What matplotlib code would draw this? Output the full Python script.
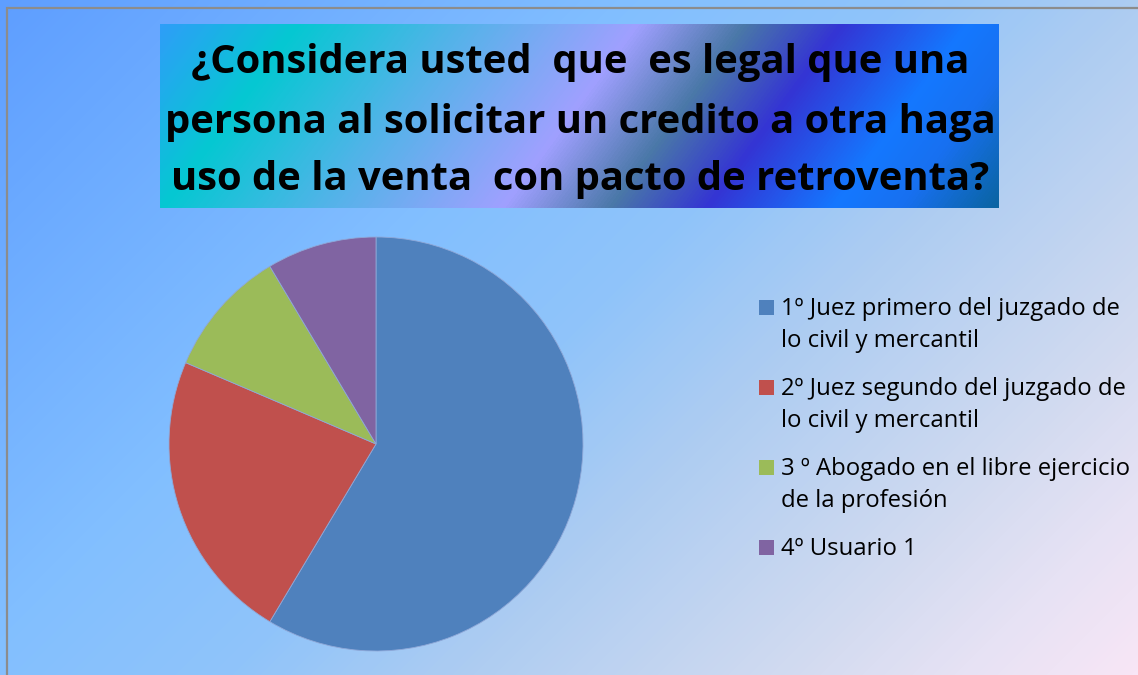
import numpy as np
import matplotlib
matplotlib.use("Agg")
from matplotlib import pyplot as plt
from matplotlib.colors import LinearSegmentedColormap
from matplotlib.patches import Rectangle

# data
labels = ["1º Juez primero del juzgado de\nlo civil y mercantil",
          "2º Juez segundo del juzgado de\nlo civil y mercantil",
          "3 º Abogado en el libre ejercicio\nde la profesión",
          "4º Usuario 1"]
values = [41, 16, 7, 6]
colors = ["#4F81BD", "#C0504D", "#9BBB59", "#8064A2"]
title_lines = ["¿Considera usted  que  es legal que una",
               "persona al solicitar un credito a otra haga",
               "uso de la venta  con pacto de retroventa?"]

W, H = 1138, 675
fig = plt.figure(figsize=(W / 100, H / 100), dpi=100)

# background gradient, diagonal
bg_cmap = LinearSegmentedColormap.from_list("bg", [
    (0.0, "#5E9EFF"), (0.35, "#82BFFF"), (0.50, "#90C4FA"),
    (0.62, "#ACCCF2"), (0.80, "#D0DAF0"), (0.90, "#E6E2F4"), (1.0, "#F8E6F6")])
xx, yy = np.meshgrid(np.arange(W), np.arange(H))
grad = (xx + yy) / float(W + H)
ax_bg = fig.add_axes([0, 0, 1, 1])
ax_bg.imshow(grad, cmap=bg_cmap, vmin=0, vmax=1, aspect="auto",
             extent=(0, W, H, 0), interpolation="bilinear")
ax_bg.set_xlim(0, W)
ax_bg.set_ylim(H, 0)
ax_bg.axis("off")
# grey frame on the top and left only
ax_bg.plot([7, 7, W], [H, 8, 8], color="#8C8C8C", lw=1.6,
           solid_joinstyle="miter")

# title box
bx0, by0, bx1, by1 = 160, 24, 999, 208
tb_cmap = LinearSegmentedColormap.from_list("tb", [
    (0.0, "#2E9EF8"), (0.14, "#05C8D2"), (0.30, "#50B4E8"), (0.49, "#A0A0FF"),
    (0.60, "#4A78A8"), (0.70, "#3434D4"), (0.83, "#1478FF"), (0.90, "#1870F0"),
    (1.0, "#0A64A0")])
bw, bh = bx1 - bx0, by1 - by0
tx, ty = np.meshgrid(np.arange(bw), np.arange(bh))
tgrad = (tx * 184 + ty * 135) / float(bw * 184 + bh * 135)
ax_t = fig.add_axes([bx0 / W, 1 - by1 / H, bw / W, bh / H])
ax_t.imshow(tgrad, cmap=tb_cmap, vmin=0, vmax=1, aspect="auto",
            extent=(0, bw, bh, 0), interpolation="bilinear")
ax_t.set_xlim(0, bw)
ax_t.set_ylim(bh, 0)
ax_t.axis("off")
baselines = [73, 133, 190]
for line, yb in zip(title_lines, baselines):
    ax_t.text(bw / 2 + 0.5, yb - by0, line, ha="center", va="baseline",
              fontsize=28.8, fontweight="bold", family="Open Sans", color="black")

# pie
cx, cy, r = 376, 444, 207
ax = fig.add_axes([(cx - r) / W, (H - cy - r) / H, 2 * r / W, 2 * r / H])
wedges, _ = ax.pie(values, colors=colors, startangle=90, counterclock=False,
                   radius=1, wedgeprops=dict(linewidth=0.6, edgecolor="#8FA8D8"))
ax.set_xlim(-1, 1)
ax.set_ylim(-1, 1)
ax.set_aspect("equal")
ax.axis("off")

# legend, drawn by hand so the swatch sits on the first line
yb = 315
for lab, col in zip(labels, colors):
    ax_bg.add_patch(Rectangle((759, yb - 15), 15, 15, facecolor=col,
                              edgecolor="none"))
    for k, part in enumerate(lab.split("\n")):
        ax_bg.text(781, yb + 32 * k, part, ha="left", va="baseline",
                   fontsize=17.2, family="Open Sans", color="black")
    yb += 32 * len(lab.split("\n")) + 16

fig.savefig("out.png", dpi=100)
